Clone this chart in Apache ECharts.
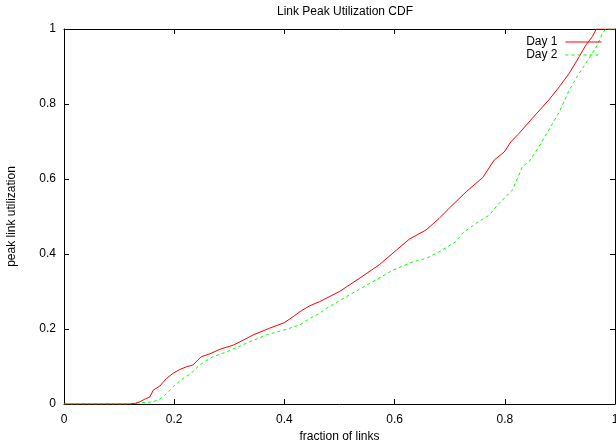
<!DOCTYPE html>
<html>
<head>
<meta charset="utf-8">
<script src="https://cdn.jsdelivr.net/npm/echarts@6/dist/echarts.min.js"></script>
<style>html,body{margin:0;padding:0;background:#fff}#c{width:616px;height:445px}</style>
</head>
<body>
<div id="c"></div>
<script>
var titleText = 'Link Peak Utilization CDF';
var xAxisName = 'fraction of links';
var yAxisName = 'peak link utilization';
var seriesNames = ['Day 1', 'Day 2'];

var day1Fraction = [0,0.12,0.13,0.138,0.148,0.156,0.162,0.174,0.186,0.198,0.21,0.222,0.234,0.249,0.265,0.283,0.307,0.325,0.343,0.373,0.4,0.415,0.428,0.446,0.464,0.5,0.536,0.572,0.603,0.627,0.657,0.681,0.699,0.73,0.76,0.781,0.799,0.811,0.826,0.85,0.88,0.899,0.917,0.935,0.947,0.959,0.966,1];
var day1Util     = [0,0,0.002,0.006,0.014,0.019,0.037,0.048,0.068,0.082,0.092,0.099,0.104,0.126,0.134,0.146,0.157,0.17,0.184,0.202,0.217,0.232,0.246,0.262,0.273,0.3,0.335,0.371,0.41,0.44,0.464,0.495,0.522,0.566,0.604,0.651,0.672,0.699,0.722,0.762,0.811,0.846,0.882,0.926,0.957,0.98,1,1];

var day2Fraction = [0,0.12,0.129,0.162,0.172,0.18,0.19,0.198,0.216,0.231,0.246,0.27,0.295,0.331,0.367,0.403,0.428,0.446,0.464,0.476,0.518,0.56,0.597,0.633,0.657,0.681,0.711,0.723,0.748,0.772,0.787,0.814,0.832,0.844,0.862,0.88,0.899,0.917,0.935,0.953,0.968,0.977,0.983,1];
var day2Util     = [0,0,0.002,0.006,0.012,0.019,0.033,0.046,0.068,0.082,0.104,0.126,0.139,0.162,0.184,0.199,0.211,0.228,0.242,0.255,0.291,0.326,0.357,0.379,0.388,0.406,0.433,0.455,0.482,0.504,0.531,0.571,0.633,0.646,0.686,0.731,0.779,0.837,0.882,0.922,0.957,0.988,1,1];

function pairs(xs, ys){ return xs.map(function(x,i){ return [x, ys[i]]; }); }

var FONT = 'Liberation Sans, Arial, sans-serif';
var chart = echarts.init(document.getElementById('c'), null, {renderer:'canvas'});
var axisBase = {
  type:'value', min:0, max:1, interval:0.2,
  axisLine:{show:true, onZero:false, lineStyle:{color:'#000', width:1}},
  axisTick:{show:true, inside:true, length:5, lineStyle:{color:'#000'}},
  splitLine:{show:false}
};
function ax(extra){ return Object.assign({}, JSON.parse(JSON.stringify(axisBase)), extra); }

chart.setOption({
  animation:false,
  backgroundColor:'#fff',
  title:{text:titleText, left:340, top:1, textAlign:'center',
    textStyle:{fontFamily:FONT, fontSize:12, fontWeight:'normal', color:'#000'}},
  grid:{left:64, right:1, top:29, bottom:41, containLabel:false, outerBoundsMode:'none'},
  legend:{
    data:seriesNames, orient:'vertical', right:14, top:35.5, align:'right', padding:0,
    itemWidth:36, itemHeight:10, itemGap:0,
    itemStyle:{opacity:0},
    lineStyle:{width:1},
    textStyle:{fontFamily:FONT, fontSize:12, color:'#000', padding:[0,3,0,0], lineHeight:13}
  },
  xAxis:[
    ax({position:'bottom', name:xAxisName, nameLocation:'middle', nameGap:27,
      nameTextStyle:{fontFamily:FONT, fontSize:12, color:'#000'},
      axisLabel:{margin:10, fontFamily:FONT, fontSize:12, color:'#000'}}),
    ax({position:'top', axisLabel:{show:false}})
  ],
  yAxis:[
    ax({position:'left', name:yAxisName, nameLocation:'middle', nameGap:46,
      nameTextStyle:{fontFamily:FONT, fontSize:12, color:'#000'},
      axisLabel:{margin:8, fontFamily:FONT, fontSize:12, color:'#000'}}),
    ax({position:'right', axisLabel:{show:false}})
  ],
  series:[
    {name:seriesNames[0], type:'line', data:pairs(day1Fraction, day1Util), showSymbol:false, symbol:'none',
      lineStyle:{color:'#ff0000', width:1}, itemStyle:{color:'#ff0000'}, z:3},
    {name:seriesNames[1], type:'line', data:pairs(day2Fraction, day2Util), showSymbol:false, symbol:'none',
      lineStyle:{color:'#00ff00', width:1, type:[3,3]}, itemStyle:{color:'#00ff00'}, z:2}
  ]
});
</script>
</body>
</html>
